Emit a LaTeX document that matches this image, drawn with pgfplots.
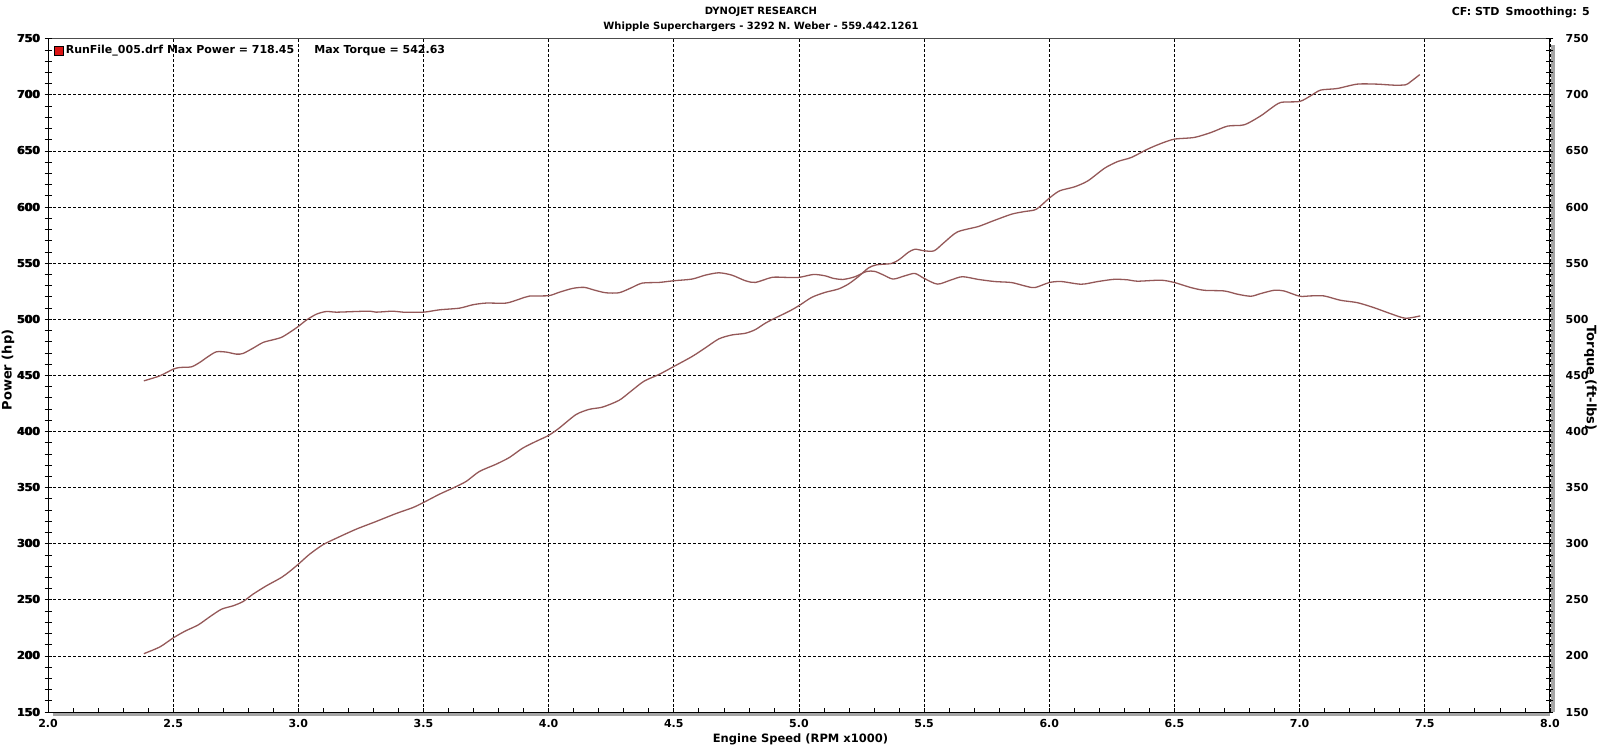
\documentclass[border=0pt]{standalone}
\usepackage{fontspec}
\setmainfont{DejaVu Sans}
\usepackage{pgfplots}
\pgfplotsset{compat=1.18}
\usepackage{pgfplotstable}

\definecolor{curve}{RGB}{148,88,88}
\definecolor{legred}{RGB}{220,20,20}
\definecolor{shadow}{RGB}{165,165,165}
\newcommand{\dynofont}{\bfseries\fontsize{11}{15}\selectfont}
\newcommand{\titlefont}{\bfseries\fontsize{10}{15}\selectfont}
\newcommand{\labfont}{\bfseries\fontsize{13}{15}\selectfont}

% engine speed (x1000 rpm), power (hp)
\pgfplotstableread{
rpm hp
2.383 202
2.447 208
2.500 216
2.547 222
2.600 227.6
2.646 234.8
2.693 241.6
2.739 244.6
2.779 248.4
2.819 255
2.872 262.4
2.932 269.8
2.965 275.2
3.000 281.7
3.045 290.6
3.098 299
3.152 304.9
3.231 312.9
3.311 319.8
3.391 326.9
3.458 332.2
3.500 336.7
3.564 344.1
3.617 349.5
3.670 355.4
3.723 364.3
3.790 370.8
3.843 376.8
3.896 385.1
3.949 391.1
4.000 396.5
4.042 403
4.109 415
4.162 419.7
4.215 421.7
4.281 427.7
4.328 435.7
4.381 444.8
4.441 450.8
4.500 457.9
4.573 466.8
4.626 474.5
4.680 482.5
4.732 486
4.786 487.5
4.826 490.8
4.865 496.4
4.905 501.1
4.958 506.8
5.000 512.1
5.051 519.5
5.104 523.9
5.157 526.9
5.197 531.3
5.237 537.9
5.277 545.6
5.310 548.5
5.370 549.7
5.403 553.6
5.436 559.5
5.463 562.4
5.500 561
5.540 561
5.580 568.4
5.633 577.8
5.716 582.6
5.769 587.1
5.849 593.6
5.902 596
5.948 598
6.000 607.9
6.041 614.4
6.101 618
6.154 623.3
6.221 634.6
6.274 640.6
6.327 644.1
6.393 651.6
6.446 656.6
6.500 660.5
6.579 662
6.646 666.4
6.712 672.1
6.779 673.3
6.845 681.3
6.885 687.8
6.925 693.2
7.000 694.1
7.044 699.1
7.084 704.2
7.150 705.6
7.230 709.5
7.309 709.5
7.376 708.6
7.423 708.9
7.443 711.6
7.480 718
}\powertable

% engine speed (x1000 rpm), torque (ft-lbs)
\pgfplotstableread{
rpm tq
2.383 445.1
2.447 449.6
2.500 455.5
2.527 457
2.573 457.6
2.606 461.5
2.640 466.8
2.673 471
2.713 470.7
2.753 468.9
2.779 469.5
2.819 474.2
2.859 479.3
2.899 481.7
2.932 483.8
2.965 488.2
3.000 493.6
3.032 499.2
3.072 504.5
3.112 506.9
3.152 506.3
3.231 506.9
3.285 507.2
3.311 506.3
3.378 507.2
3.418 506.3
3.500 506.3
3.564 508.4
3.644 509.9
3.697 512.9
3.750 514.4
3.830 514.4
3.883 517.9
3.923 520.6
4.000 521
4.042 524
4.096 527.5
4.142 528.4
4.182 526
4.228 523.6
4.281 523.6
4.328 527.8
4.374 532.2
4.441 532.8
4.500 534.3
4.573 535.8
4.626 539.3
4.680 541.4
4.732 539.3
4.786 534.3
4.826 532.8
4.892 537.3
4.945 537.3
5.000 537.3
5.058 539.9
5.104 538.7
5.138 536.4
5.177 535.5
5.224 537.9
5.270 542.6
5.303 542.6
5.336 539.6
5.376 535.8
5.423 538.7
5.463 540.8
5.500 536.4
5.553 531.3
5.606 534.9
5.653 537.9
5.716 535.5
5.782 533.6
5.849 532.7
5.902 529.7
5.942 528.2
6.000 532.7
6.048 533.6
6.128 531.2
6.194 533.6
6.260 535.6
6.314 535.1
6.353 533.9
6.446 534.8
6.500 532.7
6.566 528.2
6.619 525.8
6.699 525.2
6.752 522.3
6.805 520.5
6.845 522.9
6.898 525.8
6.938 525.2
7.000 520.5
7.044 520.8
7.097 520.8
7.163 516.9
7.230 514.8
7.296 510.4
7.363 505
7.423 500.9
7.482 503
}\torquetable

\pgfplotsset{
  dyno/.style={
    at={(48pt,33pt)}, anchor=south west,
    scale only axis, width=1502pt, height=673.3pt,
    xmin=2, xmax=8, ymin=150, ymax=750,
    font=\dynofont,
    tick label style={font=\dynofont},
    label style={font=\labfont},
    /pgf/number format/assume math mode=true,
    ytick distance=50, minor y tick num=4,
    tick style={black, line width=0.7pt},
    major tick length=7pt, minor tick length=7pt,
    tick align=center,
  },
  dynocurve/.style={curve, line width=1.3pt, line join=round, smooth, tension=0.45},
}

\begin{document}
\dynofont
\begin{tikzpicture}
\useasboundingbox (0,0) rectangle (1600pt,745pt);

% main axis: x axis, grid, power curve, labels
\begin{axis}[dyno,
  axis y line*=left, axis x line*=bottom,
  axis line style={black, line width=1pt},
  major tick length=4pt, minor tick length=4pt,
  xtick distance=0.5, minor x tick num=4,
  xtick align=inside,
  y tick style={draw=none},
  xticklabel style={anchor=base, yshift=-15pt, inner sep=0pt,
    /pgf/number format/.cd, fixed, fixed zerofill, precision=1},
  yticklabel style={anchor=east, xshift=-6pt, inner sep=0pt},
  grid=major,
  major grid style={black, line width=0.7pt, dash pattern=on 3pt off 2pt},
  xlabel={Engine Speed (RPM x1000)},
  xlabel style={at={(axis description cs:0.501,-0.0446)}, anchor=base, inner sep=0pt,
    font=\bfseries\fontsize{11.5}{15}\selectfont},
  ylabel={Power (hp)},
  ylabel style={at={(axis description cs:-0.0266,0.508)}, anchor=center, rotate=0, inner sep=0pt},
  title={DYNOJET RESEARCH\\Whipple Superchargers - 3292 N. Weber - 559.442.1261},
  title style={at={(axis description cs:0.4747,1)}, anchor=south, yshift=0.5pt,
    align=center, inner sep=0pt, font=\titlefont},
  legend style={at={(axis description cs:0.004,0.993)}, anchor=north west,
    draw=none, fill=none, font=\dynofont, inner sep=0pt,
    legend cell align=left},
  legend image code/.code={\draw[#1] (0pt,-4.5pt) rectangle (9pt,4.5pt);},
  clip=false,
]
\addplot[dynocurve, forget plot] table[x=rpm, y=hp] {\powertable};
\addlegendimage{fill=legred, draw=black, line width=0.6pt}
\addlegendentry{RunFile\_005.drf Max Power = 718.45\hspace{20pt}Max Torque = 542.63}
% frame: top edge and shadow on bottom/right
\draw[black!70, line width=1.2pt] (rel axis cs:0,1) -- (rel axis cs:1,1);
\draw[shadow, line width=3.5pt] ([yshift=-2.6pt]rel axis cs:0.003,0) -- ([yshift=-2.6pt]rel axis cs:1,0);
\draw[shadow, line width=4pt] ([xshift=3pt]rel axis cs:1,0.99) -- ([xshift=3pt]rel axis cs:1,0);
\end{axis}

% left y ticks, longer and centred on the axis line
\begin{axis}[dyno,
  axis y line*=left, axis x line=none,
  axis line style={black, line width=1pt},
  yticklabel={},
]
\end{axis}

% right axis: torque
\begin{axis}[dyno,
  axis y line*=right, axis x line=none,
  axis line style={black, line width=1pt},
  yticklabel style={anchor=west, xshift=12pt, inner sep=0pt},
  ylabel={Torque (ft-lbs)},
  ylabel style={at={(axis description cs:1.027,0.496)}, anchor=center, rotate=180, inner sep=0pt},
  clip=false,
]
\addplot[dynocurve] table[x=rpm, y=tq] {\torquetable};
\end{axis}

\node[anchor=base east, inner sep=0pt] at (1590pt,729pt) {CF: STD\hspace{6pt}Smoothing: 5};
\end{tikzpicture}
\end{document}
